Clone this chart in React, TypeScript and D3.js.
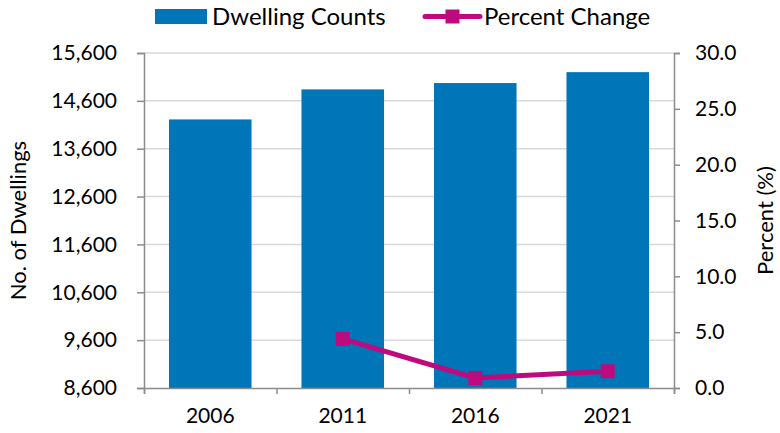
import React, { useRef, useEffect } from 'react';
import * as d3 from 'd3';

const years = ['2006', '2011', '2016', '2021'];
const dwellingCounts = [14212, 14840, 14972, 15200];
const percentChange: (number | null)[] = [null, 4.4, 0.9, 1.5];
const leftTicks = [8600, 9600, 10600, 11600, 12600, 13600, 14600, 15600];
const rightTicks = [0, 5, 10, 15, 20, 25, 30];

const BAR = '#0075b7';
const LINE = '#be0a7f';
const AXIS = '#8c8c8c';
const GRID = '#d9d9d9';
const FONT = 'Lato, "Open Sans", sans-serif';

const App = () => {
    const svgRef = useRef<SVGSVGElement>(null);

    useEffect(() => {
        const width = 780;
        const height = 433;
        const left = 144, right = 674, top = 53, bottom = 388;

        const svg = d3.select(svgRef.current)
            .attr('width', width)
            .attr('height', height);
        svg.selectAll('*').remove();

        const x = d3.scaleBand()
            .domain(years)
            .range([left, right])
            .paddingInner(0.377)
            .paddingOuter(0.1885);
        const yL = d3.scaleLinear().domain([8600, 15600]).range([bottom, top]);
        const yR = d3.scaleLinear().domain([0, 30]).range([bottom, top]);

        // gridlines
        svg.append('g')
            .selectAll('line')
            .data(leftTicks.slice(1))
            .enter()
            .append('line')
            .attr('x1', left).attr('x2', right)
            .attr('y1', d => yL(d)).attr('y2', d => yL(d))
            .attr('stroke', GRID)
            .attr('stroke-width', 1.5);

        // bars
        svg.append('g')
            .selectAll('rect')
            .data(years)
            .enter()
            .append('rect')
            .attr('x', d => x(d)!)
            .attr('width', x.bandwidth())
            .attr('y', (d, i) => yL(dwellingCounts[i]))
            .attr('height', (d, i) => bottom - yL(dwellingCounts[i]))
            .attr('fill', BAR);

        // left axis
        const gl = svg.append('g')
            .attr('transform', `translate(${left},0)`)
            .call(d3.axisLeft(yL).tickValues(leftTicks).tickFormat(d3.format(',')).tickSize(7).tickPadding(20));
        // right axis
        const gr = svg.append('g')
            .attr('transform', `translate(${right},0)`)
            .call(d3.axisRight(yR).tickValues(rightTicks).tickFormat(d3.format('.1f')).tickSize(6).tickPadding(15));
        // bottom axis, ticks at category boundaries
        const xb = d3.scaleLinear().domain([0, years.length]).range([left, right]);
        const gb = svg.append('g')
            .attr('transform', `translate(0,${bottom})`)
            .call(d3.axisBottom(xb).tickValues(d3.range(years.length + 1)).tickFormat(() => '').tickSize(6));

        [gl, gr, gb].forEach(g => {
            g.select('.domain').attr('stroke', AXIS).attr('stroke-width', 1.5);
            g.selectAll('.tick line').attr('stroke', AXIS).attr('stroke-width', 1.5);
            g.selectAll('text')
                .attr('fill', '#000')
                .style('font-family', FONT)
                .style('font-size', '21px');
        });

        // year labels
        svg.append('g')
            .selectAll('text')
            .data(years)
            .enter()
            .append('text')
            .text(d => d)
            .attr('x', d => x(d)! + x.bandwidth() / 2)
            .attr('y', 423)
            .attr('text-anchor', 'middle')
            .style('font-family', FONT)
            .style('font-size', '21px');

        // line
        const pts = years
            .map((d, i) => ({ year: d, v: percentChange[i] }))
            .filter(p => p.v !== null) as { year: string; v: number }[];
        const line = d3.line<{ year: string; v: number }>()
            .x(p => x(p.year)! + x.bandwidth() / 2)
            .y(p => yR(p.v));
        svg.append('path')
            .datum(pts)
            .attr('d', line)
            .attr('fill', 'none')
            .attr('stroke', LINE)
            .attr('stroke-width', 5);
        const ms = 14;
        svg.append('g')
            .selectAll('rect')
            .data(pts)
            .enter()
            .append('rect')
            .attr('x', p => x(p.year)! + x.bandwidth() / 2 - ms / 2)
            .attr('y', p => yR(p.v) - ms / 2)
            .attr('width', ms)
            .attr('height', ms)
            .attr('fill', LINE);

        // axis titles
        svg.append('text')
            .text('No. of Dwellings')
            .attr('transform', `translate(26,${(top + bottom) / 2}) rotate(-90)`)
            .attr('text-anchor', 'middle')
            .style('font-family', FONT)
            .style('font-size', '22px');
        svg.append('text')
            .text('Percent (%)')
            .attr('transform', `translate(773,${(top + bottom) / 2}) rotate(-90)`)
            .attr('text-anchor', 'middle')
            .style('font-family', FONT)
            .style('font-size', '22px');

        // legend
        const lg = svg.append('g');
        lg.append('rect')
            .attr('x', 155).attr('y', 9).attr('width', 52).attr('height', 15)
            .attr('fill', BAR);
        lg.append('text')
            .text('Dwelling Counts')
            .attr('x', 212).attr('y', 25)
            .style('font-family', FONT)
            .style('font-size', '24px');
        lg.append('line')
            .attr('x1', 425).attr('x2', 480).attr('y1', 16.5).attr('y2', 16.5)
            .attr('stroke', LINE)
            .attr('stroke-width', 5)
            .attr('stroke-linecap', 'round');
        lg.append('rect')
            .attr('x', 452.5 - ms / 2).attr('y', 16.5 - ms / 2).attr('width', ms).attr('height', ms)
            .attr('fill', LINE);
        lg.append('text')
            .text('Percent Change')
            .attr('x', 484).attr('y', 25)
            .style('font-family', FONT)
            .style('font-size', '24px');
    }, []);

    return (
        <svg ref={svgRef} style={{ position: 'absolute', left: 0, top: 0, display: 'block' }}></svg>
    );
};

export default App;
